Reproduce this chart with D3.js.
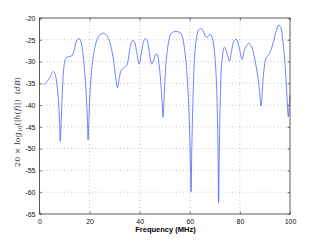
<!DOCTYPE html>
<html>
<head>
<meta charset="utf-8">
<script src="https://cdn.jsdelivr.net/npm/d3@7"></script>
<style>
body { margin: 0; background: #fff; }
svg text { font-family: "Liberation Sans", Arial, sans-serif; }
</style>
</head>
<body>
<div id="chart"></div>
<script>
// response: frequency (MHz) and gain (dB)
var freq = [1.8, 3, 4, 5, 5.6, 6.3, 7, 7.6, 8, 8.3, 8.7, 9.2, 9.8, 10.5, 11.5, 12.8, 13.8, 14.8, 15.8, 16.6,
    17.3, 18, 18.6, 19.1, 19.4, 19.8, 20.4, 21.2, 22.2, 23.3, 24.5, 25.5, 26.5, 27.5, 28.5, 29.5, 30.4, 31.1, 31.8, 32.6,
    33.5, 34.9, 35.8, 36.6, 37.3, 38, 38.8, 39.8, 40.7, 41.6, 42.4, 43.2, 44, 44.8, 45.6, 46.5, 47.1, 47.8, 48.5, 49.1,
    49.3, 49.6, 50.1, 50.8, 51.6, 52.5, 53.5, 54.5, 55.5, 56.5, 57.3, 58.2, 59, 59.7, 60.2, 60.5, 60.8, 61.3, 61.9, 62.6,
    63.5, 64.5, 65.4, 66.2, 66.9, 67.6, 68.3, 69, 69.8, 70.5, 71, 71.3, 71.5, 71.8, 72.2, 72.8, 73.8, 74.8, 75.8, 76.7,
    77.6, 78.6, 79.6, 80.9, 82, 83.5, 84.6, 85.6, 86.6, 87.5, 88.1, 88.5, 88.9, 89.6, 90.4, 91.4, 92.4, 93.4, 94.5, 95.5,
    96.3, 97, 97.7, 98.4, 98.9, 99.3, 99.7, 100];
var gain = [-35.4, -34.6, -33.8, -32.6, -32.3, -33, -35.5, -39, -44, -48.3, -43, -36, -31, -29.3, -28.9, -28.7, -27.5, -25.3, -24.7, -25.5,
    -28, -32, -37, -43, -48, -42, -35, -30, -26.5, -24.5, -23.7, -23.5, -23.8, -24.7, -26.5, -29.5, -33.5, -36, -34, -32,
    -31.5, -30.8, -28, -25.8, -25.1, -25.6, -27.8, -30.6, -28, -25.3, -24.7, -25.5, -28.5, -30.6, -29.6, -28.2, -28.5, -31, -35.5, -41,
    -42.8, -40, -34, -28.5, -25.3, -23.6, -23.2, -23.1, -23.2, -23.6, -25, -28.5, -34, -42, -52, -59.9, -50, -38, -29, -24.8,
    -22.8, -22.4, -23, -24.2, -24.5, -23.9, -23.8, -24.6, -27.5, -33, -42, -52, -62.4, -50, -38, -30, -26.7, -28, -29.9, -27.5,
    -25.3, -24.9, -26.5, -29.5, -27, -25.8, -26.5, -28.5, -31.5, -35, -38.5, -40.2, -37, -32, -29.3, -28.5, -27.3, -25.5, -23, -21.6,
    -22.2, -24.5, -28.5, -34, -39, -42.7, -40, -37.7];
var xTicks = [0, 20, 40, 60, 80, 100];
var yTicks = [-65, -60, -55, -50, -45, -40, -35, -30, -25, -20];

(function () {
    var width = 321, height = 241;
    var mLeft = 39.5, mRight = 290, mTop = 18, mBottom = 214;

    var svg = d3.select("#chart").append("svg")
        .attr("width", width)
        .attr("height", height);

    var x = d3.scaleLinear().domain([0, 100]).range([mLeft, mRight]);
    var y = d3.scaleLinear().domain([-65, -20]).range([mBottom, mTop]);

    //dotted grid
    var grid = svg.append("g");
    grid.selectAll(".gx").data(xTicks.slice(1, -1)).enter().append("line")
        .attr("x1", function (d) { return x(d); })
        .attr("x2", function (d) { return x(d); })
        .attr("y1", mTop).attr("y2", mBottom)
        .attr("stroke", "#999").attr("stroke-width", 0.6)
        .attr("stroke-dasharray", "1,2.5");
    grid.selectAll(".gy").data(yTicks.slice(1, -1)).enter().append("line")
        .attr("y1", function (d) { return y(d); })
        .attr("y2", function (d) { return y(d); })
        .attr("x1", mLeft).attr("x2", mRight)
        .attr("stroke", "#999").attr("stroke-width", 0.6)
        .attr("stroke-dasharray", "1,2.5");

    //axes, ticks inward like matlab
    var xAxis = d3.axisBottom(x).tickValues(xTicks).tickSize(-2.5).tickPadding(5);
    var yAxis = d3.axisLeft(y).tickValues(yTicks).tickSize(-2.5).tickPadding(4)
        .tickFormat(function (d) { return String(d); });
    var xTop = d3.axisTop(x).tickValues(xTicks).tickSize(-2.5).tickFormat("");
    var yRight = d3.axisRight(y).tickValues(yTicks).tickSize(-2.5).tickFormat("");

    svg.append("g").attr("transform", "translate(0," + mBottom + ")").call(xAxis);
    svg.append("g").attr("transform", "translate(" + mLeft + ",0)").call(yAxis);
    svg.append("g").attr("transform", "translate(0," + mTop + ")").call(xTop);
    svg.append("g").attr("transform", "translate(" + mRight + ",0)").call(yRight);

    svg.selectAll(".domain").remove();
    svg.selectAll(".tick line").attr("stroke", "#222").attr("stroke-width", 0.6);
    svg.selectAll(".tick text").attr("fill", "#111").style("font-size", "7px");

    //the response curve
    var pts = freq.map(function (f, i) { return [f, gain[i]]; });
    var line = d3.line()
        .x(function (d) { return x(d[0]); })
        .y(function (d) { return y(d[1]); })
        .curve(d3.curveCatmullRom.alpha(0.5));
    svg.append("path")
        .datum(pts)
        .attr("d", line)
        .attr("fill", "none")
        .attr("stroke", "#3050ff")
        .attr("stroke-width", 0.7);

    //box
    svg.append("rect")
        .attr("x", mLeft).attr("y", mTop)
        .attr("width", mRight - mLeft).attr("height", mBottom - mTop)
        .attr("fill", "none")
        .attr("stroke", "#333").attr("stroke-width", 0.8);

    //labels
    svg.append("text")
        .attr("x", 165.5).attr("y", 232)
        .attr("text-anchor", "middle")
        .style("font-size", "7.5px")
        .style("font-weight", "bold")
        .text("Frequency (MHz)");

    var yl = svg.append("text")
        .attr("transform", "translate(20,122) rotate(-90)")
        .attr("text-anchor", "middle")
        .style("font-family", "'DejaVu Serif', 'Liberation Serif', serif")
        .style("font-size", "8px")
        .attr("fill", "#333");
    yl.append("tspan").text("20 × log");
    yl.append("tspan").attr("dy", 2).style("font-size", "5.5px").text("10");
    yl.append("tspan").attr("dy", -2).text("(|");
    yl.append("tspan").style("font-style", "italic").text("h");
    yl.append("tspan").text("(");
    yl.append("tspan").style("font-style", "italic").text("f");
    yl.append("tspan").text(")|)\u00a0\u00a0(");
    yl.append("tspan").style("font-style", "italic").text("dB");
    yl.append("tspan").text(")");
})();
</script>
</body>
</html>
